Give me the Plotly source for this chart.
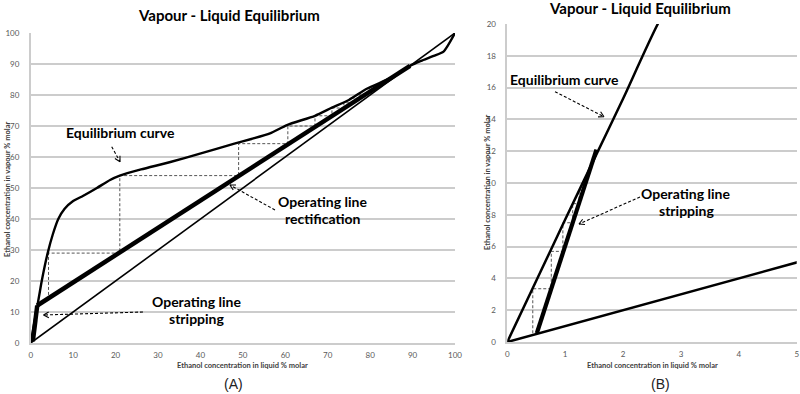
import math
import plotly.graph_objects as go

# ---------------- data ----------------
# Equilibrium curve (ethanol in liquid vs vapour, % molar)
eq_x = [0, 0.5, 1.0, 1.5, 2.0, 2.6, 4.0, 5.2, 6.5, 8.0, 10.0, 12.4, 15.6, 18.7, 21.0,
        26.0, 32.7, 39.7, 48.0, 52.0, 56.4, 60.4, 67.0, 71.0, 75.0, 79.2, 85.0,
        89.4, 92.0, 95.0, 97.3, 100.0]
eq_y = [0, 3.85, 7.7, 11.5, 15.3, 20.0, 29.0, 35.0, 40.0, 43.3, 45.8, 47.5, 50.0, 52.6, 54.0,
        56.0, 58.3, 61.0, 64.3, 65.8, 67.6, 70.3, 73.3, 75.9, 78.4, 82.0, 85.6,
        89.4, 91.0, 92.6, 94.0, 100.0]

# Operating lines
strip_x = [0.51, 1.54]
strip_y = [0.55, 12.1]
rect_x = [1.54, 89.4]
rect_y = [12.1, 89.4]

# Diagonal y = x
diag_x = [0, 100]
diag_y = [0, 100]

# Stage construction (A)
stepA_x = [4.2, 4.2, 21.0, 21.0, 49.0, 49.0, 60.6, 60.6, 67.0, 67.0, 71.0, 71.0,
           73.8, 73.8, 75.8, 75.8, 77.6, 77.6, 79.0]
stepA_y = [15.5, 29.0, 29.0, 54.0, 54.0, 64.3, 64.3, 70.0, 70.0, 73.3, 73.3, 75.8,
           75.8, 77.5, 77.5, 79.0, 79.0, 80.3, 80.3]

# Stage construction (B)
stepB_x = [0.44, 0.44, 0.76, 0.76, 0.96, 0.96, 1.13, 1.13, 1.24, 1.24, 1.31, 1.31, 1.37, 1.37, 1.41]
stepB_y = [0.55, 3.35, 3.35, 5.7, 5.7, 7.5, 7.5, 8.7, 8.7, 9.55, 9.55, 10.1, 10.1, 10.5, 10.5]

# Axes ticks
tickA_x = list(range(0, 101, 10))
tickA_y = list(range(0, 101, 10))
tickB_x = [0, 1, 2, 3, 4, 5]
tickB_y = list(range(0, 21, 2))

W, H = 800, 394
FONT = "Lato"
GRID = "#cccccc"
TICKC = "#595959"


def px(x):
    return x / W


def py(y):
    return 1 - y / H


fig = go.Figure()

# ---- chart A ----
fig.add_trace(go.Scatter(x=stepA_x, y=stepA_y, mode="lines", xaxis="x", yaxis="y",
                         line=dict(color="#555555", width=1, dash="3px,2px")))
fig.add_trace(go.Scatter(x=diag_x, y=diag_y, mode="lines", xaxis="x", yaxis="y",
                         line=dict(color="black", width=1.6)))
fig.add_trace(go.Scatter(x=eq_x, y=eq_y, mode="lines", xaxis="x", yaxis="y",
                         line=dict(color="black", width=2.4, shape="spline", smoothing=0.6)))
fig.add_trace(go.Scatter(x=rect_x, y=rect_y, mode="lines", xaxis="x", yaxis="y",
                         line=dict(color="black", width=4.5)))
fig.add_trace(go.Scatter(x=strip_x, y=strip_y, mode="lines", xaxis="x", yaxis="y",
                         line=dict(color="black", width=4.5)))

# ---- chart B ----
fig.add_trace(go.Scatter(x=stepB_x, y=stepB_y, mode="lines", xaxis="x2", yaxis="y2",
                         line=dict(color="#555555", width=1, dash="3px,2px")))
fig.add_trace(go.Scatter(x=diag_x, y=diag_y, mode="lines", xaxis="x2", yaxis="y2",
                         line=dict(color="black", width=2.5)))
fig.add_trace(go.Scatter(x=eq_x, y=eq_y, mode="lines", xaxis="x2", yaxis="y2",
                         line=dict(color="black", width=2.5, shape="spline", smoothing=0.6)))
fig.add_trace(go.Scatter(x=strip_x, y=strip_y, mode="lines", xaxis="x2", yaxis="y2",
                         line=dict(color="black", width=4.2)))

base = dict(zeroline=False, tickfont=dict(family=FONT, size=8, color=TICKC), ticks="",
            showline=True, linecolor=GRID, linewidth=1.5, fixedrange=True, automargin=False)
xcommon = dict(showgrid=False, ticklabelstandoff=4, **base)
ycommon = dict(showgrid=True, gridcolor=GRID, gridwidth=1.5, ticklabelstandoff=8, **base)

fig.update_layout(
    width=W, height=H, autosize=False,
    margin=dict(l=0, r=0, t=0, b=0, pad=0),
    paper_bgcolor="white", plot_bgcolor="white",
    showlegend=False,
    xaxis=dict(domain=[px(30.7), px(455)], range=[0, 100], tickvals=tickA_x, anchor="y", **xcommon),
    yaxis=dict(domain=[py(343), py(33)], range=[0, 100], tickvals=tickA_y, anchor="x", **ycommon),
    xaxis2=dict(domain=[px(507.3), px(796.7)], range=[0, 5], tickvals=tickB_x, anchor="y2", **xcommon),
    yaxis2=dict(domain=[py(342), py(24)], range=[0, 20], tickvals=tickB_y, anchor="x2", **ycommon),
)

annotations = []
shapes = []


def text(x, y, s, size, bold=True, color="black", angle=0, family=FONT):
    annotations.append(dict(x=px(x), y=py(y), xref="paper", yref="paper", text=s,
                            showarrow=False, textangle=angle,
                            font=dict(family=family, size=size, color=color,
                                      weight="bold" if bold else "normal"),
                            xanchor="center", yanchor="middle"))


def arrow(x0, y0, x1, y1, head=6):
    shapes.append(dict(type="line", xref="paper", yref="paper",
                       x0=px(x0), y0=py(y0), x1=px(x1), y1=py(y1),
                       line=dict(color="black", width=1.1, dash="3px,2px")))
    ang = math.atan2(y1 - y0, x1 - x0)
    for d in (0.5, -0.5):
        hx = x1 - head * math.cos(ang + d)
        hy = y1 - head * math.sin(ang + d)
        shapes.append(dict(type="line", xref="paper", yref="paper",
                           x0=px(hx), y0=py(hy), x1=px(x1), y1=py(y1),
                           line=dict(color="black", width=1.1)))


# titles
text(229, 15, "Vapour - Liquid Equilibrium", 15)
text(640, 8, "Vapour - Liquid Equilibrium", 15)
# axis titles
text(242.5, 365, "Ethanol concentration in liquid % molar", 7.5, color="#404040")
text(652.5, 365, "Ethanol concentration in liquid % molar", 7.5, color="#404040")
text(7, 190, "Ethanol concentration in vapour % molar", 7.5, color="#404040", angle=-90)
text(487, 183, "Ethanol concentration in vapour % molar", 7.5, color="#404040", angle=-90)
# panel labels
text(233, 384, "(A)", 14, bold=False, color="#222222", family="Liberation Sans")
text(660, 384, "(B)", 14, bold=False, color="#222222", family="Liberation Sans")
# callouts A
text(120, 133, "Equilibrium curve", 14)
text(322, 201, "Operating line", 14)
text(322, 218.5, "rectification", 14)
text(196, 301, "Operating line", 14)
text(196, 318, "stripping", 14)
# callouts B
text(564, 80, "Equilibrium curve", 14)
text(685, 193, "Operating line", 14)
text(686, 210, "stripping", 14)

arrow(111.7, 146.7, 120, 161.7)
arrow(275, 210, 230, 185)
arrow(143, 312, 43.5, 315)
arrow(555, 91.7, 604, 116.7)
arrow(640, 197, 579, 224)

fig.update_layout(annotations=annotations, shapes=shapes)

fig.write_html("out.html", config={"displayModeBar": False},
               post_script="document.body.style.margin='0';document.body.style.overflow='hidden';")
